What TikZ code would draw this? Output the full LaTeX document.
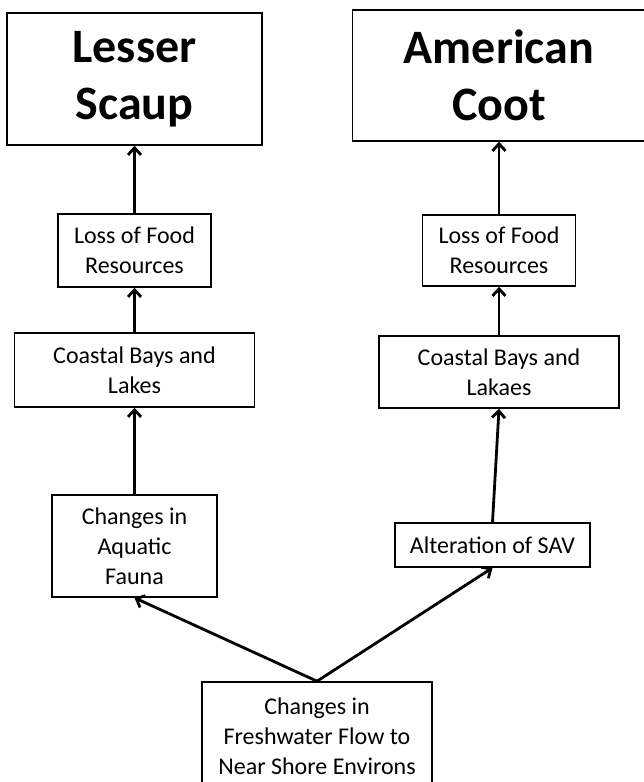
\documentclass[tikz,border=0pt]{standalone}
\usepackage{fontspec}
\setmainfont{Carlito}
\usetikzlibrary{positioning,arrows.meta}

\begin{document}
\begin{tikzpicture}[x=1pt, y=-1pt, font=\fontsize{24}{30}\selectfont] % pixel-like units, y downwards
\tikzstyle{box} = [draw=black, line width=1.6pt, align=center, inner sep=0pt]
\tikzstyle{bird} = [box, font=\fontsize{48}{57}\selectfont\bfseries]
\tikzstyle{arrow} = [-{Straight Barb[length=7pt,width=13pt]}, line width=2.8pt, draw=black]

\useasboundingbox (0,0) rectangle (644,782);

% Driver at the bottom (runs off the page edge)
\node[box, minimum width=230pt, minimum height=108pt] (Flow) at (317,736) {Changes in\\Freshwater Flow to\\Near Shore Environs};

% Left chain up to the scaup
\node[box, minimum width=165pt, minimum height=102pt] (Fauna) at (134.5,546) {Changes in\\Aquatic\\Fauna};
\node[box, minimum width=240pt, minimum height=74pt, above of=Fauna, node distance=176pt] (BaysLeft) {Coastal Bays and\\Lakes};
\node[box, minimum width=153pt, minimum height=73pt, above of=BaysLeft, node distance=119.5pt] (FoodLeft) {Loss of Food\\Resources};
\node[bird, minimum width=255pt, minimum height=132pt, above of=FoodLeft, node distance=171.5pt] (Scaup) {Lesser\\Scaup};

% Right chain up to the coot
\node[box, minimum width=195pt, minimum height=44pt] (SAV) at (492.5,545) {Alteration of SAV};
\node[box, minimum width=240pt, minimum height=72pt] (BaysRight) at (499,372) {Coastal Bays and\\Lakaes};
\node[box, minimum width=153pt, minimum height=71pt, above of=BaysRight, node distance=121.5pt] (FoodRight) {Loss of Food\\Resources};
\node[bird, minimum width=293pt, minimum height=131pt, above of=FoodRight, node distance=175pt] (Coot) {American\\Coot};

% Arrows
\draw[arrow] (Flow.north) -- (Fauna.south);
\draw[arrow] (Fauna) -- (BaysLeft);
\draw[arrow] (BaysLeft) -- (FoodLeft);
\draw[arrow] (FoodLeft) -- (Scaup);

\draw[arrow] (Flow.north) -- (SAV.south);
\draw[arrow] (SAV.north) -- (BaysRight.south);
\draw[arrow] (BaysRight) -- (FoodRight);
\draw[arrow] (FoodRight) -- (Coot);

\end{tikzpicture}
\end{document}
